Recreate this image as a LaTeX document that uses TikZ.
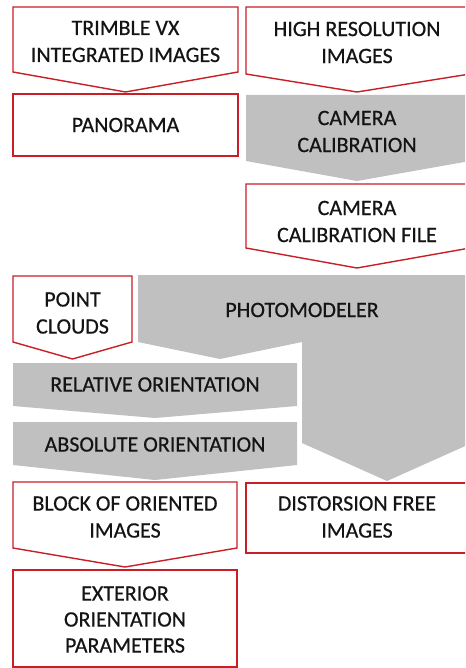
\documentclass[tikz,border=0pt]{standalone}
\usepackage{fontspec}
\setmainfont{Carlito}
\newfontfamily\lblfont[FakeBold=0.5]{Carlito}
\definecolor{boxred}{RGB}{200,30,38}
\definecolor{boxgray}{RGB}{192,192,192}
\definecolor{txt}{RGB}{20,20,20}
\begin{document}
\begin{tikzpicture}[x=1pt,y=-1pt,
  redbox/.style={draw=boxred,line width=1.4pt,fill=white,line join=miter},
  graybox/.style={fill=boxgray,draw=none},
  lbl/.style={align=center,inner sep=0pt,text=txt,font=\lblfont\fontsize{22}{27}\selectfont}]
\useasboundingbox (0,0) rectangle (465,668);
\fill[white] (0,0) rectangle (465,668);
\clip (0,0) rectangle (465,668);
% left column top
\draw[redbox] (13,7) -- (238,7) -- (238,72) -- (125.5,92) -- (13,72) -- cycle;
\node[lbl] (trimble) at (125.5,41.5) {TRIMBLE VX\\INTEGRATED IMAGES};
\draw[redbox] (13,94) rectangle (238,156);
\node[lbl] (panorama) at (125.5,125) {PANORAMA};
% right column top
\draw[redbox] (246,7) -- (470,7) -- (470,74) -- (357,92) -- (246,74) -- cycle;
\node[lbl] (hires) at (357,42.5) {HIGH RESOLUTION\\IMAGES};
\fill[graybox] (246,95) -- (470,95) -- (470,161) -- (357,181) -- (246,161) -- cycle;
\node[lbl] (camcal) at (357,131.5) {CAMERA\\CALIBRATION};
\draw[redbox] (246,184) -- (470,184) -- (470,248) -- (357,268) -- (246,248) -- cycle;
\node[lbl] (calfile) at (357,221.5) {CAMERA\\CALIBRATION FILE};
% photomodeler
\fill[graybox] (138,275) -- (472,275) -- (472,443) -- (387,481) -- (302,443) -- (302,342) -- (220,359) -- (138,342) -- cycle;
\node[lbl] (photo) at (302,310) {PHOTOMODELER};
\draw[redbox] (13,276) -- (132,276) -- (132,342) -- (72.5,359) -- (13,342) -- cycle;
\node[lbl] (clouds) at (72.5,313) {POINT\\CLOUDS};
\fill[graybox] (13,363) -- (297,363) -- (297,406) -- (155,418) -- (13,406) -- cycle;
\node[lbl] (relor) at (155,384.5) {RELATIVE ORIENTATION};
\fill[graybox] (13,422) -- (297,422) -- (297,465) -- (155,480) -- (13,465) -- cycle;
\node[lbl] (absor) at (155,444.5) {ABSOLUTE ORIENTATION};
% bottom
\draw[redbox] (13,482) -- (237,482) -- (237,548) -- (125,567) -- (13,548) -- cycle;
\node[lbl] (block) at (125,517) {BLOCK OF ORIENTED\\IMAGES};
\draw[redbox] (246,483) rectangle (472,553);
\node[lbl] (distfree) at (357,517) {DISTORSION FREE\\IMAGES};
\draw[redbox] (13,570) rectangle (237,667);
\node[lbl,font=\lblfont\fontsize{22}{26}\selectfont] (exterior) at (125,619.5) {EXTERIOR\\ORIENTATION\\PARAMETERS};
\end{tikzpicture}
\end{document}
